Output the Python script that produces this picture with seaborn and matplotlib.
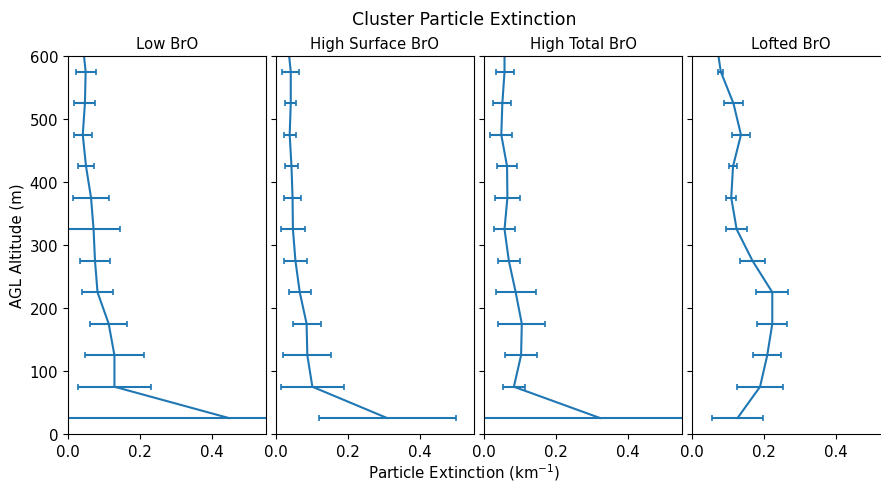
import numpy as np
import pandas as pd
import matplotlib
matplotlib.use("Agg")
import matplotlib.pyplot as plt
import seaborn as sns

altitudes = [25, 75, 125, 175, 225, 275, 325, 375, 425, 475, 525, 575, 625]
clusters = ["Low BrO", "High Surface BrO", "High Total BrO", "Lofted BrO"]

low_ext = [0.449, 0.129, 0.129, 0.113, 0.082, 0.075, 0.071, 0.064, 0.050, 0.041, 0.047, 0.049, 0.040]
low_err = [0.500, 0.102, 0.081, 0.052, 0.042, 0.043, 0.074, 0.050, 0.023, 0.025, 0.029, 0.028, 0.025]

surf_ext = [0.310, 0.101, 0.087, 0.085, 0.066, 0.054, 0.047, 0.046, 0.043, 0.038, 0.041, 0.041, 0.032]
surf_err = [0.190, 0.088, 0.067, 0.039, 0.031, 0.031, 0.034, 0.024, 0.019, 0.017, 0.015, 0.023, 0.020]

total_ext = [0.324, 0.083, 0.103, 0.105, 0.088, 0.069, 0.057, 0.065, 0.064, 0.048, 0.051, 0.057, 0.057]
total_err = [0.500, 0.031, 0.045, 0.065, 0.056, 0.030, 0.028, 0.034, 0.029, 0.031, 0.025, 0.025, 0.025]

loft_ext = [0.126, 0.189, 0.209, 0.223, 0.223, 0.168, 0.124, 0.109, 0.114, 0.136, 0.115, 0.080, 0.067]
loft_err = [0.071, 0.065, 0.039, 0.042, 0.045, 0.034, 0.029, 0.014, 0.012, 0.024, 0.027, 0.007, 0.010]

series_ext = [low_ext, surf_ext, total_ext, loft_ext]
series_err = [low_err, surf_err, total_err, loft_err]

frames = []
for name, ext, err in zip(clusters, series_ext, series_err):
    frames.append(pd.DataFrame({"cluster": name, "alt": altitudes, "ext": ext, "err": err}))
df = pd.concat(frames, ignore_index=True)

sns.set_style("ticks", {"axes.edgecolor": "black", "text.color": "black",
                        "xtick.color": "black", "ytick.color": "black",
                        "axes.labelcolor": "black"})
plt.rcParams["font.family"] = ["DejaVu Sans"]
plt.rcParams["font.size"] = 10

W, H = 881, 485
fig, axes = plt.subplots(1, 4, figsize=(W / 100, H / 100), dpi=100, sharey=True)
fig.subplots_adjust(left=68 / W, right=890 / W, bottom=1 - 435 / H, top=1 - 57 / H,
                    wspace=10 / 198)

color = "#1f77b4"
for ax, name in zip(axes, clusters):
    sub = df[df["cluster"] == name]
    sns.lineplot(data=sub, x="ext", y="alt", orient="y", sort=True, ax=ax,
                 color=color, linewidth=1.5, errorbar=None)
    ax.errorbar(sub["ext"], sub["alt"], xerr=sub["err"], fmt="none",
                ecolor=color, elinewidth=1.5, capsize=2, capthick=1.2)
    ax.set_xlim(0, 0.55)
    ax.set_ylim(0, 600)
    ax.set_xticks([0.0, 0.2, 0.4])
    ax.set_xticklabels(["0.0", "0.2", "0.4"])
    ax.set_yticks([0, 100, 200, 300, 400, 500, 600])
    ax.set_title(name, fontsize=10.7)
    ax.set_xlabel("")
    ax.set_ylabel("")
    for s in ax.spines.values():
        s.set_visible(True)
    ax.tick_params(labelsize=10.8)

axes[0].set_ylabel("AGL Altitude (m)", fontsize=10.8)
fig.text(464 / W, 1 - 20 / H, "Cluster Particle Extinction", ha="center", va="center", fontsize=12.5)
fig.text(464 / W, 1 - 473 / H, "Particle Extinction (km$^{-1}$)", ha="center", va="center", fontsize=10.8)

fig.savefig("out.png", dpi=100)
